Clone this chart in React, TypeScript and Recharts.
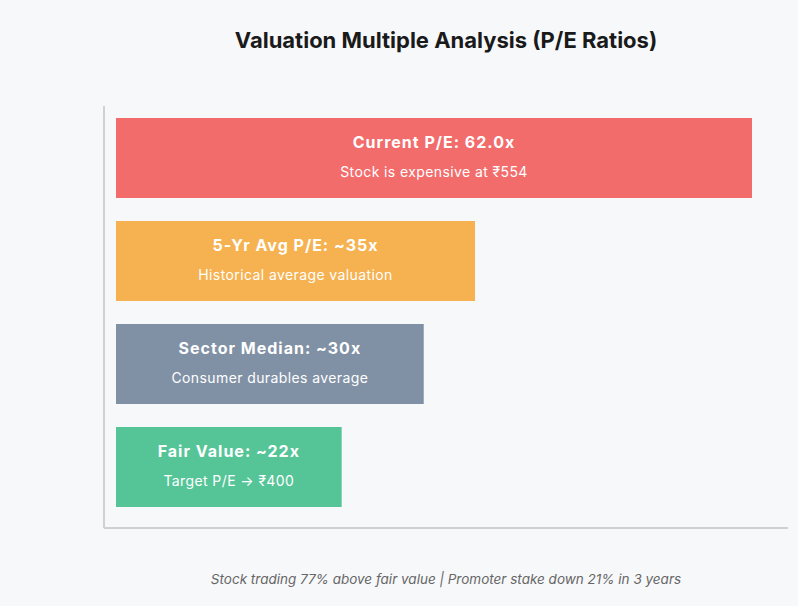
import React from "react";
import { BarChart, Bar, XAxis, YAxis, Cell, LabelList } from "recharts";

const categories = ["Current P/E", "5-Yr Avg P/E", "Sector Median", "Fair Value"];
const peValues = [62, 35, 30, 22];
const titles = ["Current P/E: 62.0x", "5-Yr Avg P/E: ~35x", "Sector Median: ~30x", "Fair Value: ~22x"];
const subtitles = [
  "Stock is expensive at ₹554",
  "Historical average valuation",
  "Consumer durables average",
  "Target P/E → ₹400",
];
const colors = ["#F26C6C", "#F6B251", "#8191A5", "#55C598"];

const data = categories.map((name, i) => ({ name, value: peValues[i] }));

const FONT = "Inter, 'Helvetica Neue', Arial, sans-serif";

const BarLabel = (props: any) => {
  const { x, y, width, height, index } = props;
  const cx = Number(x) + Number(width) / 2;
  const cy = Number(y) + Number(height) / 2;
  return (
    <g>
      <text x={cx} y={cy - 16} textAnchor="middle" dominantBaseline="central" fill="#ffffff" fontSize={16} fontWeight={700} letterSpacing={1} fontFamily={FONT}>
        {titles[index]}
      </text>
      <text x={cx} y={cy + 13} textAnchor="middle" dominantBaseline="central" fill="#ffffff" fontSize={14} letterSpacing={0.4} fontFamily={FONT}>
        {subtitles[index]}
      </text>
    </g>
  );
};

export default function App() {
  return (
    <div style={{ position: "relative", width: 798, height: 606, background: "#F7F8FA", fontFamily: FONT }}>
      <style>{`body{margin:0;background:#F7F8FA}`}</style>
      <div style={{ position: "absolute", left: 104, width: 684, top: 27, textAlign: "center", fontSize: 22, fontWeight: 700, color: "#1a1a1a" }}>
        Valuation Multiple Analysis (P/E Ratios)
      </div>
      <BarChart
        width={798}
        height={606}
        data={data}
        layout="vertical"
        margin={{ top: 106, right: 10, bottom: 77, left: 103 }}
        barSize={80}
      >
        <XAxis type="number" domain={[0, 62]} tick={false} height={1} padding={{ left: 12, right: 36 }} axisLine={{ stroke: "#D0D0D0", strokeWidth: 2 }} tickLine={false} />
        <YAxis type="category" dataKey="name" tick={false} width={1} padding={{ top: 0, bottom: 10 }} axisLine={{ stroke: "#D0D0D0", strokeWidth: 2 }} tickLine={false} />
        <Bar dataKey="value" isAnimationActive={false}>
          {data.map((d, i) => (
            <Cell key={d.name} fill={colors[i]} />
          ))}
          <LabelList dataKey="value" content={<BarLabel />} />
        </Bar>
      </BarChart>
      <div style={{ position: "absolute", left: 104, width: 684, top: 571, textAlign: "center", fontSize: 13.5, fontStyle: "italic", color: "#666666" }}>
        Stock trading 77% above fair value | Promoter stake down 21% in 3 years
      </div>
    </div>
  );
}
